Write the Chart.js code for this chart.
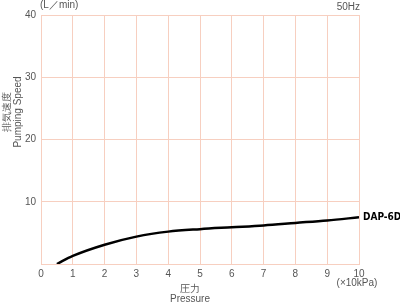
<!DOCTYPE html>
<html>
<head>
<meta charset="utf-8">
<script src="https://cdn.jsdelivr.net/npm/chart.js@4/dist/chart.umd.min.js"></script>
<style>
  html, body { margin: 0; padding: 0; background: #fff; }
  #wrap { width: 400px; height: 307px; position: relative; }
</style>
</head>
<body>
<div id="wrap"><canvas id="chartPumpingSpeed"></canvas></div>
<script>
const pressure = [0.5, 1, 2, 3, 4, 5, 6, 7, 8, 9, 10];
const pumpingSpeed = [0, 1.3, 3.1, 4.4, 5.2, 5.6, 5.9, 6.2, 6.6, 7.0, 7.5];
const xTicks = [0, 1, 2, 3, 4, 5, 6, 7, 8, 9, 10];
const yTicks = [0, 10, 20, 30, 40];
const seriesName = 'DAP-6D';

(function() {
    const gridColor = '#f7cfc0';
    const textColor = '#555';
    const font = { family: 'Liberation Sans, Arial, sans-serif', size: 10 };

    // extra labels drawn next to the plot
    const annotations = {
        id: 'annotations',
        afterDraw(chart) {
            const ctx = chart.ctx;
            const x = chart.scales.x;
            const y = chart.scales.y;
            ctx.save();
            ctx.fillStyle = textColor;
            ctx.font = '10px Liberation Sans, Arial, sans-serif';
            ctx.textBaseline = 'middle';

            ctx.textAlign = 'left';
            ctx.fillText('(L／min)', 40, 5);
            ctx.textAlign = 'right';
            ctx.fillText('50Hz', 360, 7);

            ctx.textAlign = 'center';
            ctx.fillText('(×10kPa)', x.getPixelForValue(10) - 2, 283);
            ctx.fillText('圧力', 190, 289);
            ctx.fillText('Pressure', 190, 299);

            ctx.save();
            ctx.translate(7, 112);
            ctx.rotate(-Math.PI / 2);
            ctx.fillText('排気速度', 0, 0);
            ctx.fillText('Pumping Speed', 0, 11);
            ctx.restore();

            const last = pumpingSpeed.length - 1;
            ctx.fillStyle = '#000';
            ctx.font = 'bold 10px DejaVu Sans Condensed, DejaVu Sans, sans-serif';
            ctx.textAlign = 'left';
            ctx.fillText(seriesName, x.getPixelForValue(pressure[last]) + 4, y.getPixelForValue(pumpingSpeed[last]));
            ctx.restore();
        }
    };

    window.pumpingChart = new Chart(document.getElementById('chartPumpingSpeed'), {
        type: 'line',
        data: {
            datasets: [{
                label: seriesName,
                data: pressure.map(function(p, i) { return { x: p, y: pumpingSpeed[i] }; }),
                borderColor: '#000',
                backgroundColor: '#000',
                borderWidth: 2.5,
                pointRadius: 0,
                tension: 0.4,
                cubicInterpolationMode: 'monotone'
            }]
        },
        options: {
            responsive: true,
            maintainAspectRatio: false,
            animation: false,
            layout: { padding: { top: 15, right: 41, left: 0, bottom: 0 } },
            plugins: {
                legend: { display: false },
                tooltip: { enabled: false }
            },
            scales: {
                x: {
                    type: 'linear',
                    min: 0,
                    max: 10,
                    afterFit: function(s) { s.height = 43; },
                    afterBuildTicks: function(s) { s.ticks = xTicks.map(function(v) { return { value: v }; }); },
                    grid: { color: gridColor, drawTicks: false },
                    border: { color: gridColor },
                    ticks: { color: textColor, font: font, padding: 4, maxRotation: 0 }
                },
                y: {
                    min: 0,
                    max: 40,
                    afterFit: function(s) { s.width = 41; },
                    afterBuildTicks: function(s) { s.ticks = yTicks.map(function(v) { return { value: v }; }); },
                    grid: { color: gridColor, drawTicks: false },
                    border: { color: gridColor },
                    ticks: {
                        color: textColor,
                        font: font,
                        padding: 5,
                        callback: function(v) { return v === 0 ? '' : v; }
                    }
                }
            }
        },
        plugins: [annotations]
    });
})();
</script>
</body>
</html>
